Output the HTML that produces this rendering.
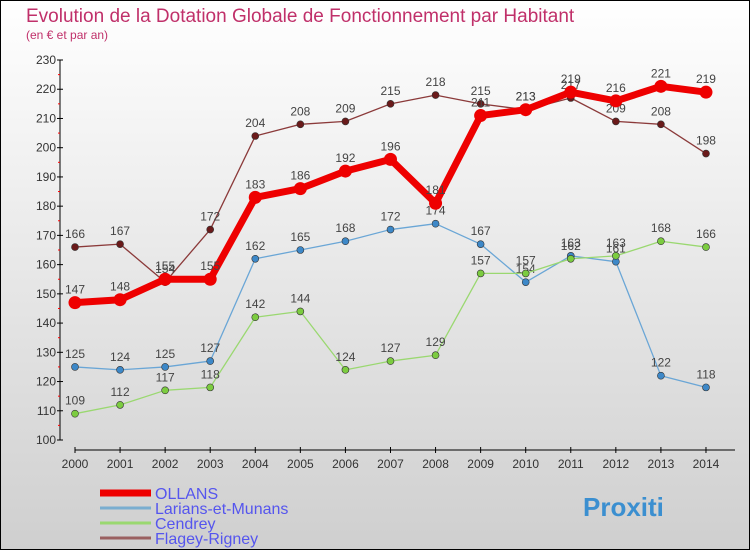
<!DOCTYPE html>
<html><head><meta charset="utf-8"><style>
body{margin:0}
#c{width:750px;height:550px;position:relative;overflow:hidden}
text{font-family:"Liberation Sans",sans-serif}
</style></head><body>
<div id="c">
<svg id="s" width="750" height="550" xmlns="http://www.w3.org/2000/svg">
<defs><linearGradient id="bg" x1="0" y1="0" x2="0" y2="1"><stop offset="0" stop-color="#ffffff"/><stop offset="1" stop-color="#cfcfcf"/></linearGradient></defs>
<rect x="0.5" y="0.5" width="749" height="549" fill="url(#bg)" stroke="#000"/>
<text x="26" y="22" font-size="19" fill="#c0306a">Evolution de la Dotation Globale de Fonctionnement par Habitant</text>
<text x="26" y="39" font-size="12" fill="#c0306a">(en € et par an)</text>
<g id="axes"></g><g id="series"></g><g id="legend"></g>
</svg></div>
<script>
const years=["2000","2001","2002","2003","2004","2005","2006","2007","2008","2009","2010","2011","2012","2013","2014"];
const yTicks=[100,110,120,130,140,150,160,170,180,190,200,210,220,230];
const ollans=[147,148,155,155,183,186,192,196,181,211,213,219,216,221,219];
const larians=[125,124,125,127,162,165,168,172,174,167,154,163,161,122,118];
const cendrey=[109,112,117,118,142,144,124,127,129,157,157,162,163,168,166];
const flagey=[166,167,154,172,204,208,209,215,218,215,213,217,209,208,198];
const NS="http://www.w3.org/2000/svg";
const X=i=>75+i*45.07, Y=v=>440-(v-100)*2.923;
function mk(t,a,p){const e=document.createElementNS(NS,t);for(const k in a)e.setAttribute(k,a[k]);p.appendChild(e);return e;}
const ax=document.getElementById('axes');
let yl=mk('line',{x1:60,y1:60,x2:60,y2:440,stroke:'#000'},ax);

yTicks.forEach(v=>{mk('line',{x1:57,x2:63,y1:Y(v),y2:Y(v),stroke:'#000'},ax);
 if(v<230)mk('line',{x1:58,x2:60,y1:Y(v+5),y2:Y(v+5),stroke:'#f00'},ax);
 const t=mk('text',{x:56,y:Y(v)+4,'text-anchor':'end','font-size':12,fill:'#333'},ax);t.textContent=v;
 });
let xl=mk('line',{x1:75,y1:450,x2:735,y2:450,stroke:'#000'},ax);

years.forEach((y,i)=>{mk('line',{x1:X(i),x2:X(i),y1:447,y2:453,stroke:'#000'},ax);
 const t=mk('text',{x:X(i),y:468,'text-anchor':'middle','font-size':12,fill:'#333'},ax);t.textContent=y;
 });
const sg=document.getElementById('series');
function series(d,col,dot,w,r,name){
 const g=mk('g',{},sg);
 mk('polyline',{points:d.map((v,i)=>X(i)+','+Y(v)).join(' '),fill:'none',stroke:col,'stroke-width':w,'stroke-linejoin':'round'},g);
 d.forEach((v,i)=>{const c=mk('circle',{cx:X(i),cy:Y(v),r:r,fill:dot,stroke:'#333','stroke-width':r>4?0:0.6},g);
  
  const t=mk('text',{x:X(i),y:Y(v)-9,'text-anchor':'middle','font-size':12,fill:'#444'},g);t.textContent=v;
  });
}
series(larians,'#6aa6d6','#3d88c8',1.3,3.5,'larians');
series(cendrey,'#9ad870','#7ccc40',1.3,3.5,'cendrey');
series(flagey,'#8b3a3a','#6a1a1a',1.3,3.5,'flagey');
series(ollans,'#ee0000','#ee0000',7,6.5,'ollans');
const lg=document.getElementById('legend');
[['OLLANS','#ee0000',7],['Larians-et-Munans','#7aaed0',3],['Cendrey','#9ad870',3],['Flagey-Rigney','#9a6060',3]].forEach((e,i)=>{
 const y=492+i*15;
 const l=mk('line',{x1:100,x2:151,y1:y+1,y2:y+1,stroke:e[1],'stroke-width':e[2]},lg);
 
 const t=mk('text',{x:155,y:y+7,'font-size':16,fill:'#5555ee'},lg);t.textContent=e[0];
 });
const pt=mk('text',{x:583,y:516,'font-size':26,'font-weight':'bold',fill:'#3b8fd0'},lg);
pt.textContent='Proxiti';
</script></body></html>
